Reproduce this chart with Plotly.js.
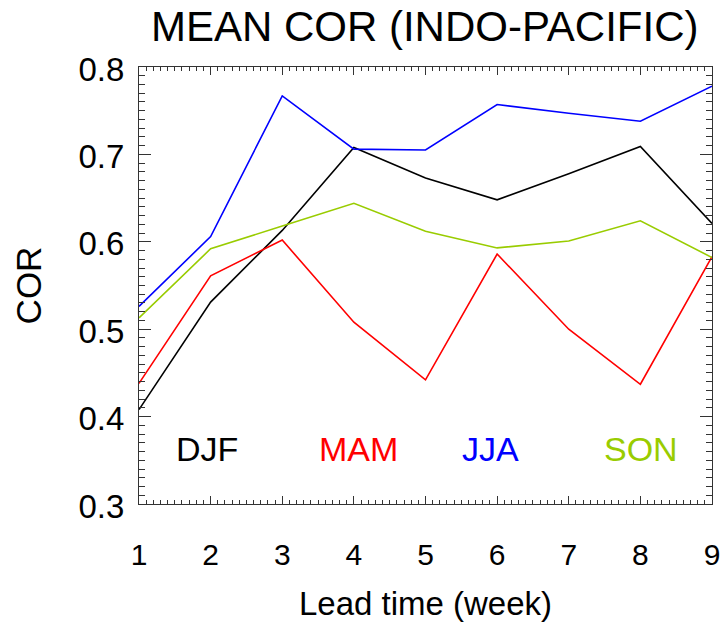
<!DOCTYPE html>
<html>
<head>
<meta charset="utf-8">
<script src="https://cdn.plot.ly/plotly-3.0.1.min.js"></script>
<style>html,body{margin:0;padding:0;background:#fff;}#chart{width:723px;height:623px;}</style>
</head>
<body>
<div id="chart"></div>
<script>
// Data
const leadWeeks = [1, 2, 3, 4, 5, 6, 7, 8, 9];
const seasons = ["DJF", "MAM", "JJA", "SON"];
const djf = [0.408, 0.531, 0.613, 0.708, 0.673, 0.648, 0.678, 0.709, 0.621];
const mam = [0.438, 0.561, 0.602, 0.508, 0.442, 0.586, 0.500, 0.437, 0.583];
const jja = [0.526, 0.606, 0.767, 0.706, 0.705, 0.757, 0.747, 0.738, 0.778];
const son = [0.513, 0.592, 0.618, 0.644, 0.612, 0.593, 0.601, 0.624, 0.582];
const seasonColors = ["#000000", "#ff0000", "#0000ff", "#99cc00"];
const labelX = [1.95, 4.06, 5.91, 8.01];

const seriesValues = [djf, mam, jja, son];
const font = "Liberation Sans, Arial, Helvetica, sans-serif";

const traces = seriesValues.map((vals, i) => ({
  x: leadWeeks,
  y: vals,
  type: "scatter",
  mode: "lines",
  name: seasons[i],
  line: {color: seasonColors[i], width: 1.6},
  showlegend: false
}));

const annotations = seasons.map((s, i) => ({
  text: s,
  x: labelX[i],
  y: 0.363,
  xref: "x",
  yref: "y",
  showarrow: false,
  xanchor: "center",
  yanchor: "middle",
  font: {family: font, size: 34, color: seasonColors[i]}
}));

const layout = {
  width: 723,
  height: 623,
  margin: {l: 138.7, r: 10.7, t: 66.5, b: 119},
  paper_bgcolor: "#ffffff",
  plot_bgcolor: "#ffffff",
  font: {family: font, color: "#000000"},
  title: {
    text: "MEAN COR (INDO-PACIFIC)",
    font: {family: font, size: 42, color: "#000000"},
    x: 424.7 / 723, xref: "container", xanchor: "center",
    y: 1 - 26 / 623, yref: "container", yanchor: "middle"
  },
  xaxis: {
    range: [1, 9],
    tickmode: "linear", tick0: 1, dtick: 1,
    ticks: "inside", ticklen: 8, tickwidth: 1, tickcolor: "#333",
    showline: true, linecolor: "#333", linewidth: 1, mirror: "allticks",
    showgrid: false, zeroline: false,
    tickfont: {family: font, size: 30, color: "#000"},
    ticklabelstandoff: 24,
    minor: {ticks: "inside", ticklen: 4, dtick: 0.1, tickcolor: "#333", tickwidth: 1, showgrid: false},
    title: {text: "Lead time (week)", font: {family: font, size: 33, color: "#000"}, standoff: 21}
  },
  yaxis: {
    range: [0.3, 0.8],
    tickmode: "linear", tick0: 0.3, dtick: 0.1, tickformat: ".1f",
    ticks: "inside", ticklen: 12, tickwidth: 1, tickcolor: "#333",
    showline: true, linecolor: "#333", linewidth: 1, mirror: "allticks",
    showgrid: false, zeroline: false,
    tickfont: {family: font, size: 33, color: "#000"},
    ticklabelstandoff: 7,
    ticklabelshift: 2,
    minor: {ticks: "inside", ticklen: 6, dtick: 0.01, tickcolor: "#333", tickwidth: 1, showgrid: false},
    title: {text: "COR", font: {family: font, size: 35, color: "#000"}, standoff: 26}
  },
  annotations: annotations
};

Plotly.newPlot("chart", traces, layout, {displayModeBar: false, staticPlot: true});
</script>
</body>
</html>
